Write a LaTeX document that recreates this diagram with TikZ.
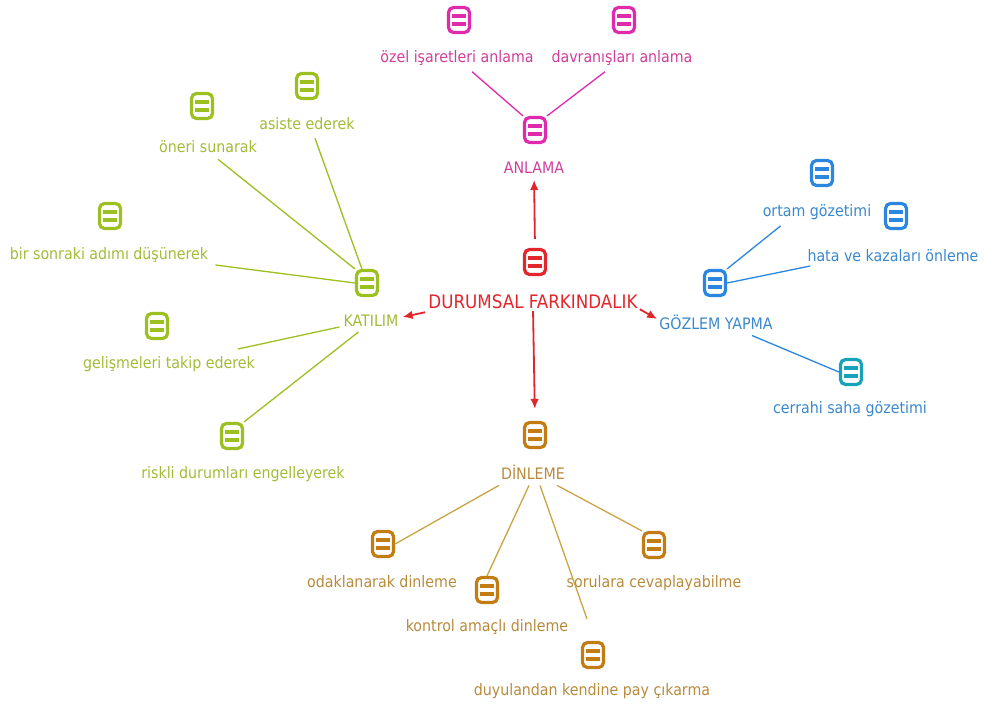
\documentclass[tikz,border=0pt]{standalone}
\usepackage{fontspec}
\setmainfont{DejaVu Sans Condensed}
\usetikzlibrary{arrows.meta,calc}

\definecolor{kirmizi}{HTML}{E1262C}
\definecolor{pembe}{HTML}{E02AAE}
\definecolor{pembeyazi}{HTML}{D03E9C}
\definecolor{yesil}{HTML}{9CC020}
\definecolor{yesilyazi}{HTML}{A0BC38}
\definecolor{mavi}{HTML}{2A86DE}
\definecolor{maviyazi}{HTML}{3A88CC}
\definecolor{turkuaz}{HTML}{18A2BA}
\definecolor{kahve}{HTML}{C27C12}
\definecolor{kahveyazi}{HTML}{B88A3C}
\definecolor{kahvecizgi}{HTML}{C9A442}

\tikzset{
  icon/.style={draw=#1, line width=3.2pt, fill=white, rounded corners=5pt,
    minimum width=21pt, minimum height=25pt, inner sep=0pt,
    path picture={
      \fill[#1, sharp corners] ([xshift=-7pt,yshift=1.8pt]path picture bounding box.center)
        rectangle ([xshift=7pt,yshift=5.6pt]path picture bounding box.center);
      \fill[#1, sharp corners] ([xshift=-7pt,yshift=-1.8pt]path picture bounding box.center)
        rectangle ([xshift=7pt,yshift=-5.6pt]path picture bounding box.center);
    }},
  etiket/.style={text=#1, inner sep=0pt, font=\fontsize{15.8}{17}\selectfont},
  ok/.style={draw=kirmizi, line width=1.8pt, -{Latex[length=10pt,width=8.5pt]}},
  bag/.style={draw=#1, line width=1.3pt}
}

\begin{document}
\begin{tikzpicture}[x=1pt,y=-1pt]
  \useasboundingbox (0,0) rectangle (984,711);

  % merkez
  \node[icon=kirmizi] (rootI) at (535,262) {};
  \node[etiket=kirmizi, font=\fontsize{18.6}{20}\selectfont] (root) at (533,302) {DURUMSAL FARKINDALIK};

  % anlama
  \node[icon=pembe] (anlI) at (535,130) {};
  \node[etiket=pembeyazi] (anl) at (534,168) {ANLAMA};
  \node[icon=pembe] (ozelI) at (459,20) {};
  \node[etiket=pembeyazi] (ozel) at (457,58) {özel işaretleri anlama};
  \node[icon=pembe] (davrI) at (624,20) {};
  \node[etiket=pembeyazi] (davr) at (622,58) {davranışları anlama};

  % katilim
  \node[icon=yesil] (katI) at (367,283) {};
  \node[etiket=yesilyazi] (kat) at (371,321) {KATILIM};
  \node[icon=yesil] (asisI) at (307,86) {};
  \node[etiket=yesilyazi] (asis) at (307,124) {asiste ederek};
  \node[icon=yesil] (onerI) at (202,106) {};
  \node[etiket=yesilyazi] (oner) at (208,147) {öneri sunarak};
  \node[icon=yesil] (birsI) at (110,216) {};
  \node[etiket=yesilyazi] (birs) at (109,255) {bir sonraki adımı düşünerek};
  \node[icon=yesil] (geliI) at (157,326) {};
  \node[etiket=yesilyazi] (geli) at (169,364) {gelişmeleri takip ederek};
  \node[icon=yesil] (riskI) at (232,436) {};
  \node[etiket=yesilyazi] (risk) at (243,474) {riskli durumları engelleyerek};

  % gozlem
  \node[icon=mavi] (gozI) at (715,283) {};
  \node[etiket=maviyazi] (goz) at (716,322) {GÖZLEM YAPMA};
  \node[icon=mavi] (ortmI) at (822,173) {};
  \node[etiket=maviyazi] (ortm) at (817,212) {ortam gözetimi};
  \node[icon=mavi] (hataI) at (896,216) {};
  \node[etiket=maviyazi] (hata) at (893,256) {hata ve kazaları önleme};
  \node[icon=turkuaz] (cerrI) at (851,372) {};
  \node[etiket=maviyazi] (cerr) at (850,409) {cerrahi saha gözetimi};

  % dinleme
  \node[icon=kahve] (dinI) at (535,435) {};
  \node[etiket=kahveyazi] (din) at (533,472) {DİNLEME};
  \node[icon=kahve] (odakI) at (383,544) {};
  \node[etiket=kahveyazi] (odak) at (382,582) {odaklanarak dinleme};
  \node[icon=kahve] (kontI) at (487,590) {};
  \node[etiket=kahveyazi] (kont) at (487,627) {kontrol amaçlı dinleme};
  \node[icon=kahve] (duyuI) at (593,655) {};
  \node[etiket=kahveyazi] (duyu) at (592,691) {duyulandan kendine pay çıkarma};
  \node[icon=kahve] (soruI) at (654,545) {};
  \node[etiket=kahveyazi] (soru) at (654,583) {sorulara cevaplayabilme};

  % oklar
  \draw[ok, shorten >=6pt, shorten <=9pt] (rootI.north) -- (anl.south);
  \draw[ok] ($(root.south west)+(-3,3)$) -- ($(kat.east)+(4,-4)$);
  \draw[ok] ($(root.south east)+(2,0)$) -- ($(goz.west)+(-2,-3)$);
  \draw[ok, shorten >=12pt, shorten <=2pt] (root.south) -- (dinI.north);

  % baglar
  \draw[bag=pembe] ($(ozel.south)+(15,6)$) -- (anlI.north west);
  \draw[bag=pembe] ($(davr.south)+(-17,6)$) -- (anlI.north east);

  \draw[bag=yesil] ($(asis.south)+(8,8)$) -- (katI.110);
  \draw[bag=yesil] ($(oner.south)+(10,6)$) -- (katI.north west);
  \draw[bag=yesil] ($(birs.east)+(7,10)$) -- (katI.west);
  \draw[bag=yesil] ($(geli.east)+(-17,-15)$) -- ($(kat.west)+(-4,6)$);
  \draw[bag=yesil] (riskI.north east) -- ($(kat.south west)+(15,5)$);

  \draw[bag=mavi] ($(ortm.south west)+(18,6)$) -- (gozI.north east);
  \draw[bag=mavi] ($(hata.west)+(3,10)$) -- (gozI.east);
  \draw[bag=mavi] ($(goz.south)+(36,6)$) -- (cerrI.west);

  \draw[bag=kahvecizgi] ($(din.south west)+(-2,6)$) -- (odakI.east);
  \draw[bag=kahvecizgi] ($(din.south)+(-4,6)$) -- (kontI.north);
  \draw[bag=kahvecizgi] ($(din.south)+(7,6)$) -- ($(duyuI.north)+(-6,-22)$);
  \draw[bag=kahvecizgi] ($(din.south east)+(-8,6)$) -- (soruI.north west);
\end{tikzpicture}
\end{document}
